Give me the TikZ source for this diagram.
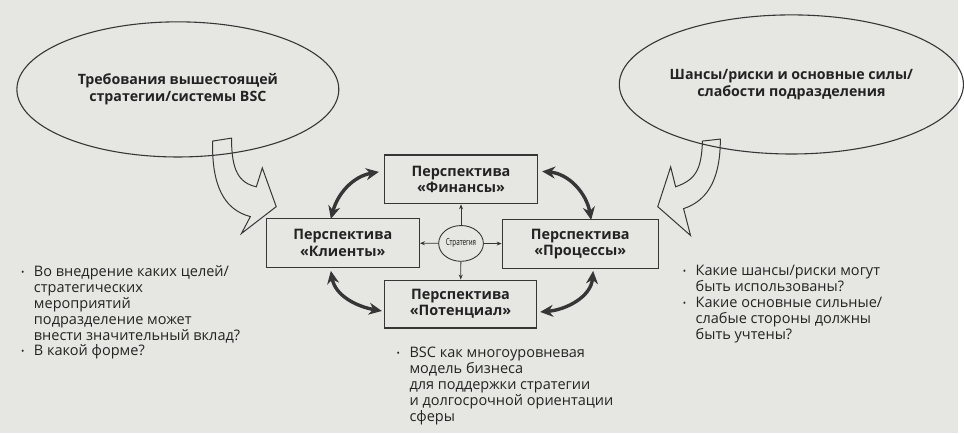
\documentclass[tikz,border=0pt]{standalone}
\usepackage{fontspec}
\setmainfont{Open Sans}
\newfontfamily\narrowfont[FakeStretch=0.72]{PT Sans}
\usetikzlibrary{arrows.meta, positioning, shapes.geometric}
\definecolor{paper}{HTML}{E6E6E3}
\definecolor{inkOne}{HTML}{232323}
\definecolor{inkTwo}{HTML}{363636}
\newcommand{\bulletmark}{\makebox[13pt][l]{\raisebox{1pt}{\fontsize{9}{9}\selectfont •}}}
\newcommand{\bulletgap}{\hspace*{13pt}}
\tikzset{
  persp/.style={draw=inkTwo, line width=1.3pt, minimum width=154pt, minimum height=49pt, align=center,
    font=\bfseries\fontsize{14.5}{16.5}\selectfont, text=inkOne, inner sep=0pt},
  goal/.style={ellipse, draw=inkTwo, line width=1.1pt, align=center, inner sep=0pt,
    font=\bfseries\fontsize{14.3}{17}\selectfont, text=inkOne},
  note/.style={align=left, anchor=north west, inner sep=0pt, font=\fontsize{14.6}{16}\selectfont, text=inkOne},
  arr/.style={-{Stealth[length=5pt, width=4pt]}, draw=inkTwo, line width=0.8pt},
  cyc/.style={{Stealth[length=13pt, width=12pt]}-{Stealth[length=13pt, width=12pt]}, draw=inkTwo, line width=3.4pt},
  bigarr/.style={draw=inkTwo, line width=1pt, line join=miter},
}

\begin{document}
\begin{tikzpicture}[x=1pt, y=1pt]
  \fill[paper] (0,0) rectangle (964,436);
  % the two sources
  \node[goal, minimum width=324pt, minimum height=136pt] (upper) at (179,346)
    {Требования вышестоящей\\стратегии/системы BSC};
  \node[goal, minimum width=317pt, minimum height=140pt] (unit) at (796.5,351)
    {Шансы/риски и основные силы/\\слабости подразделения};
  % four perspectives round the strategy
  \node[persp] (fin) at (464,255.5) {Перспектива\\«Финансы»};
  \node[persp] (cl) at (345,191.5) {Перспектива\\«Клиенты»};
  \node[persp, minimum width=157pt] (pr) at (584,190.5) {Перспектива\\«Процессы»};
  \node[persp, minimum width=153pt, minimum height=48pt] (pot) at (463.5,130) {Перспектива\\«Потенциал»};
  \node[ellipse, draw=inkTwo, line width=0.9pt, minimum width=45pt, minimum height=36pt, inner sep=0pt,
    font=\narrowfont\fontsize{10}{10}\selectfont, text=inkOne] (strat) at (464,191) {Стратегия};
  \foreach \t in {fin, cl, pr, pot} { \draw[arr] (strat) -- (\t); }
  % cycle between neighbours
  \draw[cyc] ([xshift=-12pt, yshift=-1pt]cl.north) to[out=75, in=190] ([xshift=-5pt, yshift=7.5pt]fin.west);
  \draw[cyc] ([xshift=4pt, yshift=8pt]fin.east) to[out=-5, in=100] ([xshift=11pt, yshift=-1pt]pr.north);
  \draw[cyc] ([xshift=-12pt, yshift=-3pt]cl.south) to[out=-80, in=170] ([xshift=-2pt, yshift=-7pt]pot.west);
  \draw[cyc] ([xshift=3pt, yshift=-8pt]pot.east) to[out=5, in=-95] ([xshift=13pt, yshift=-2pt]pr.south);
  % hollow arrows out of the ellipses
  \draw[bigarr] (214,294) -- (233,297) .. controls (233,265) and (240,252) .. (258,248)
    -- (264,267) -- (278,228) -- (243,201) -- (252,218) .. controls (225,225) and (213,250) .. cycle;
  \draw[bigarr] (707,294) -- (725,296) .. controls (725,260) and (715,235) .. (688,226)
    -- (695,199) -- (662,228) -- (675,268) -- (680,248) .. controls (700,255) and (706,265) .. cycle;
  % questions
  \node[note] (qleft) at (21,169)
    {\bulletmark Во внедрение каких целей/\\\bulletgap стратегических\\\bulletgap мероприятий\\
     \bulletgap подразделение может\\\bulletgap внести значительный вклад?\\\bulletmark В какой форме?};
  \node[note] (qmid) at (399,87)
    {\bulletmark BSC как многоуровневая\\\bulletgap модель бизнеса\\\bulletgap для поддержки стратегии\\
     \bulletgap и долгосрочной ориентации\\\bulletgap сферы};
  \node[note] (qright) at (687,169)
    {\bulletmark Какие шансы/риски могут\\\bulletgap быть использованы?\\\bulletmark Какие основные сильные/\\
     \bulletgap слабые стороны должны\\\bulletgap быть учтены?};
\end{tikzpicture}
\end{document}
